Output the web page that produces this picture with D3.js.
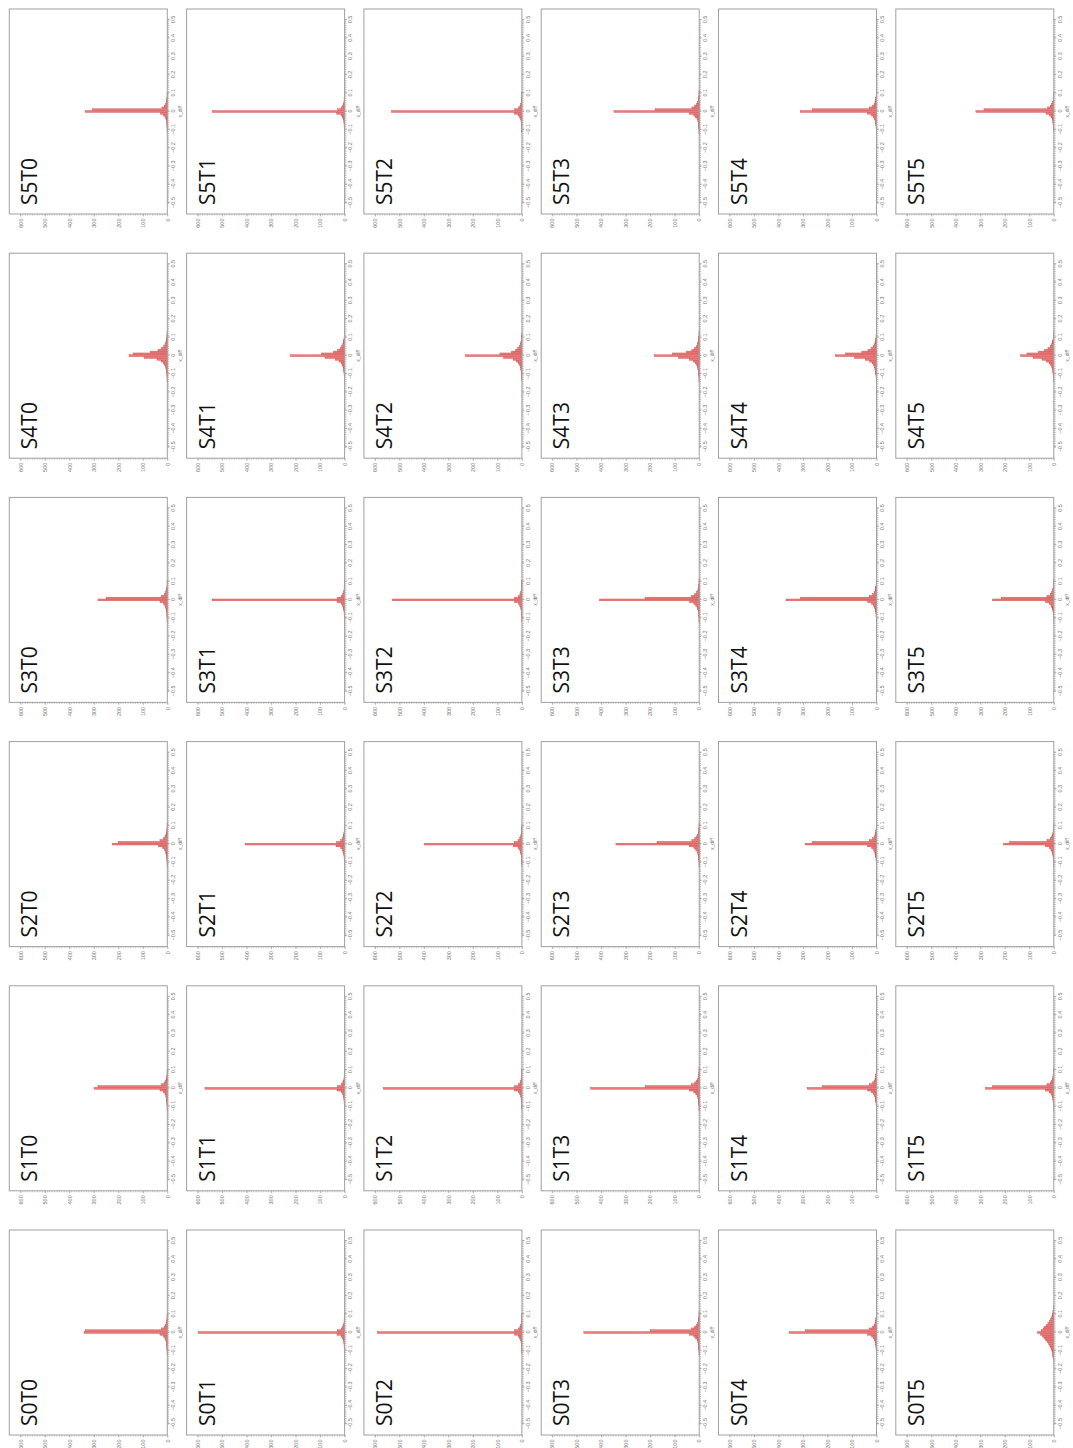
<!DOCTYPE html>
<html>
<head>
<meta charset="utf-8">
<script src="https://cdn.jsdelivr.net/npm/d3@7"></script>
<style>
  html, body { margin: 0; padding: 0; background: #ffffff; }
  svg { display: block; }
</style>
</head>
<body>
<svg id="chart" width="1073" height="1448"></svg>
<script>
// Histograms of x_diff for every S/T combination.
// Bins are 0.01 wide, centred on -0.15 ... 0.15 (30 bins per panel).
const binStart = -0.155;
const binWidth = 0.01;

const rowLabels = ["S5", "S4", "S3", "S2", "S1", "S0"];
const colLabels = ["T0", "T1", "T2", "T3", "T4", "T5"];

const diffTicks = [-0.5, -0.4, -0.3, -0.2, -0.1, 0, 0.1, 0.2, 0.3, 0.4, 0.5];
const countTicks = [0, 100, 200, 300, 400, 500, 600];

// counts per row, one array per T column
const countsS5 = [
  [0,0,0,0,1,1,1,2,2,3,4,6,9,15,28,335,305,22,12,7,4,3,2,1,1,1,0,0,0,0],
  [0,0,0,0,1,1,1,2,2,3,4,6,9,14,32,540,28,14,8,5,3,2,2,1,1,1,0,0,0,0],
  [0,0,0,0,1,1,1,2,2,3,4,6,9,14,30,532,30,14,8,5,3,2,2,1,1,1,0,0,0,0],
  [0,0,0,1,1,1,2,2,3,4,6,9,14,22,40,348,180,30,18,11,7,4,3,2,1,1,1,0,0,0],
  [0,0,0,1,1,1,2,2,3,4,6,9,13,20,36,311,262,30,16,10,6,4,3,2,1,1,1,0,0,0],
  [0,0,0,0,1,1,2,2,3,4,5,7,11,17,32,318,285,26,14,9,5,3,2,1,1,1,0,0,0,0]
];
const countsS4 = [
  [0,1,1,1,2,2,3,4,6,8,11,16,25,42,95,156,140,70,38,24,15,10,7,5,3,2,2,1,1,0],
  [0,1,1,1,2,2,3,4,5,7,10,14,22,38,80,221,95,45,28,18,12,8,5,4,3,2,1,1,1,0],
  [0,0,1,1,2,2,3,4,5,7,10,14,22,36,75,230,90,42,26,17,11,7,5,3,2,2,1,1,0,0],
  [0,1,1,1,2,2,3,4,6,8,11,16,25,40,85,184,110,52,30,19,12,8,6,4,3,2,1,1,1,0],
  [0,1,1,2,2,3,4,5,7,9,12,18,28,45,90,168,127,60,35,22,14,9,6,4,3,2,2,1,1,0],
  [0,1,1,2,2,3,4,5,7,9,13,19,30,48,85,135,110,62,38,24,15,10,7,5,3,2,2,1,1,0]
];
const countsS3 = [
  [0,0,0,1,1,1,2,2,3,4,5,7,10,16,30,283,250,24,13,8,5,3,2,1,1,1,0,0,0,0],
  [0,0,0,0,1,1,1,2,2,3,4,6,9,14,31,541,29,14,8,5,3,2,2,1,1,1,0,0,0,0],
  [0,0,0,0,1,1,1,2,2,3,4,6,9,14,30,529,30,14,8,5,3,2,2,1,1,1,0,0,0,0],
  [0,0,0,1,1,1,2,2,3,4,6,9,14,22,40,406,221,32,18,11,7,4,3,2,1,1,1,0,0,0],
  [0,0,0,1,1,1,2,2,3,4,6,9,13,20,36,369,311,30,16,10,6,4,3,2,1,1,1,0,0,0],
  [0,0,0,1,1,1,2,2,3,4,6,8,12,19,34,250,215,28,15,9,6,4,3,2,1,1,1,0,0,0]
];
const countsS2 = [
  [0,0,0,1,1,1,2,2,3,4,6,8,12,19,35,225,200,30,16,10,6,4,3,2,1,1,1,0,0,0],
  [0,0,0,0,1,1,1,2,2,3,5,7,10,16,35,406,33,16,9,6,4,3,2,1,1,1,0,0,0,0],
  [0,0,0,0,1,1,1,2,2,3,5,7,10,16,34,398,32,16,9,6,4,3,2,1,1,1,0,0,0,0],
  [0,0,0,1,1,1,2,2,3,4,6,9,14,22,40,340,172,30,18,11,7,4,3,2,1,1,1,0,0,0],
  [0,0,0,1,1,1,2,2,3,4,6,9,13,20,36,291,262,30,16,10,6,4,3,2,1,1,1,0,0,0],
  [0,0,0,1,1,1,2,2,3,4,6,8,12,19,34,205,180,28,15,9,6,4,3,2,1,1,1,0,0,0]
];
const countsS1 = [
  [0,0,0,1,1,1,2,2,3,4,5,7,10,16,30,299,283,24,13,8,5,3,2,1,1,1,0,0,0,0],
  [0,0,0,0,1,1,1,2,2,3,4,6,9,14,31,570,29,14,8,5,3,2,2,1,1,1,0,0,0,0],
  [0,0,0,0,1,1,1,2,2,3,4,6,9,14,30,566,30,14,8,5,3,2,2,1,1,1,0,0,0,0],
  [0,0,0,1,1,1,2,2,3,4,6,9,14,22,40,443,221,32,18,11,7,4,3,2,1,1,1,0,0,0],
  [0,0,0,1,1,1,2,2,3,4,6,9,13,20,36,283,221,30,16,10,6,4,3,2,1,1,1,0,0,0],
  [0,0,0,1,1,1,2,2,3,4,6,8,12,19,34,279,250,28,15,9,6,4,3,2,1,1,1,0,0,0]
];
const countsS0 = [
  [0,0,0,1,1,1,2,2,3,4,5,7,10,16,30,340,335,24,13,8,5,3,2,1,1,1,0,0,0,0],
  [0,0,0,0,1,1,1,2,2,3,4,6,9,14,31,598,29,14,8,5,3,2,2,1,1,1,0,0,0,0],
  [0,0,0,0,1,1,1,2,2,3,4,6,9,14,30,590,30,14,8,5,3,2,2,1,1,1,0,0,0,0],
  [0,0,0,1,1,1,2,2,3,4,6,9,14,22,40,471,200,32,18,11,7,4,3,2,1,1,1,0,0,0],
  [0,0,0,1,1,1,2,2,3,4,6,9,13,20,36,357,291,30,16,10,6,4,3,2,1,1,1,0,0,0],
  [2,3,4,5,6,8,10,13,17,22,28,34,40,46,55,66,52,44,38,30,24,18,14,10,7,5,4,3,2,2]
];
const countsByRow = [countsS5, countsS4, countsS3, countsS2, countsS1, countsS0];

// ---- layout ----
const colX0 = 9.3, colStep = 177.3, boxW = 158;
const rowY0 = 9, rowStep = 244.2, boxH = 205;

const svg = d3.select("#chart");

// Each panel is drawn upright (x_diff horizontal, counts vertical)
// and then turned a quarter turn counter-clockwise.
const L = boxH;   // local width  (x_diff axis)
const M = boxW;   // local height (count axis)

const xDiff = d3.scaleLinear().domain([-0.5, 0.5]).range([11, L - 11]);
const yCount = d3.scaleLinear().domain([0, 600]).range([M, 11]);

const fmtDiff = d => (d === 0 ? "0" : d3.format(".1f")(d));
const axisFont = "Liberation Sans, Arial, sans-serif";

rowLabels.forEach((sLab, r) => {
  colLabels.forEach((tLab, c) => {
    const counts = countsByRow[r][c];
    const bins = counts.map((v, k) => ({
      x0: binStart + k * binWidth,
      x1: binStart + (k + 1) * binWidth,
      v
    }));

    const px = colX0 + c * colStep;
    const py = rowY0 + r * rowStep;
    const g = svg.append("g")
      .attr("transform", `translate(${px},${py + boxH}) rotate(-90)`);

    // minor ticks along the x_diff axis
    const minor = d3.range(-50, 51).map(i => i / 100);
    g.append("g")
      .attr("transform", `translate(0,${M})`)
      .selectAll("line").data(minor).join("line")
      .attr("x1", d => xDiff(d)).attr("x2", d => xDiff(d))
      .attr("y1", 0).attr("y2", 1.8)
      .attr("stroke", "#8a8a8a").attr("stroke-width", 0.6);

    // minor ticks along the count axis
    const minorC = d3.range(0, 61).map(i => i * 10);
    g.append("g")
      .selectAll("line").data(minorC).join("line")
      .attr("x1", 0).attr("x2", -1.6)
      .attr("y1", d => yCount(d)).attr("y2", d => yCount(d))
      .attr("stroke", "#9a9a9a").attr("stroke-width", 0.5);

    // x_diff axis
    const ax = g.append("g")
      .attr("transform", `translate(0,${M})`)
      .call(d3.axisBottom(xDiff).tickValues(diffTicks).tickFormat(fmtDiff)
        .tickSize(2.5).tickPadding(1.5));
    ax.select(".domain").remove();
    ax.selectAll("line").attr("stroke", "#888").attr("stroke-width", 0.6);
    ax.selectAll("text").attr("fill", "#777").attr("font-size", "5.5px")
      .attr("font-family", axisFont);

    // count axis
    const ay = g.append("g")
      .call(d3.axisLeft(yCount).tickValues(countTicks).tickSize(2.5).tickPadding(2));
    ay.select(".domain").remove();
    ay.selectAll("line").attr("stroke", "#888").attr("stroke-width", 0.6);
    ay.selectAll("text").attr("fill", "#777").attr("font-size", "5.5px")
      .attr("font-family", axisFont);

    // axis title
    g.append("text")
      .attr("x", xDiff(0)).attr("y", M + 15)
      .attr("text-anchor", "middle")
      .attr("font-size", "5px")
      .attr("fill", "#777")
      .attr("font-family", axisFont)
      .text("x_diff");

    // histogram bars
    g.append("g")
      .selectAll("rect").data(bins.filter(b => b.v > 0)).join("rect")
      .attr("x", b => xDiff(b.x0))
      .attr("width", b => xDiff(b.x1) - xDiff(b.x0))
      .attr("y", b => yCount(b.v))
      .attr("height", b => M - yCount(b.v))
      .attr("fill", "#e97b7b")
      .attr("stroke", "#cf4b4b")
      .attr("stroke-width", 0.4);

    // panel frame
    g.append("rect")
      .attr("x", 0).attr("y", 0).attr("width", L).attr("height", M)
      .attr("fill", "none")
      .attr("stroke", "#a0a0a0").attr("stroke-width", 1);

    // panel title
    g.append("text")
      .attr("x", 9).attr("y", 28)
      .attr("font-size", "21px")
      .attr("font-family", "Open Sans, Noto Sans, sans-serif")
      .attr("fill", "#111")
      .text(sLab + tLab);
  });
});
</script>
</body>
</html>
